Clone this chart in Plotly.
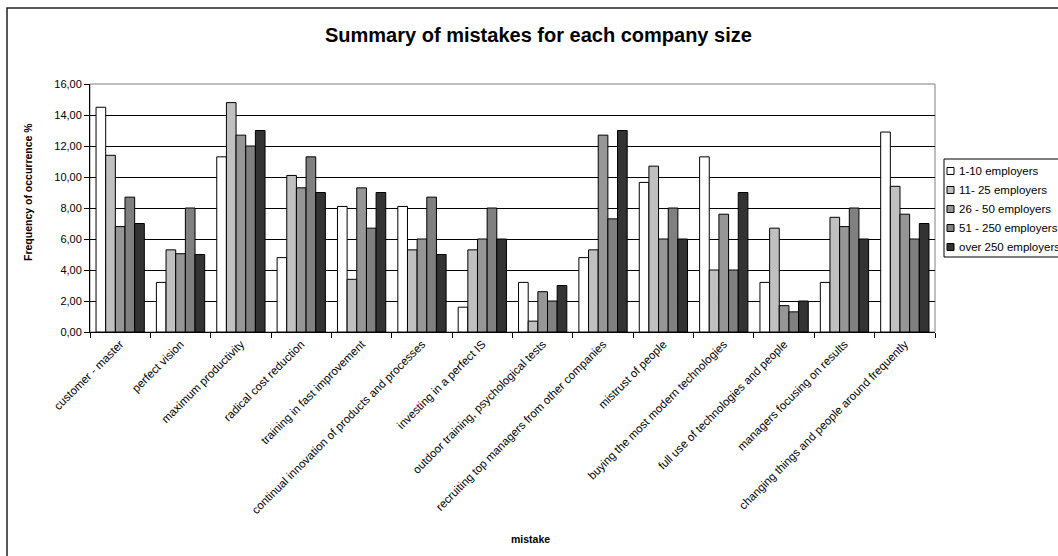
import plotly.graph_objects as go

# Categories (mistakes) and series values, % frequency of occurrence
mistakes = [
    "customer - master",
    "perfect vision",
    "maximum productivity",
    "radical cost reduction",
    "training in fast improvement",
    "continual innovation of products and processes",
    "investing in a perfect IS",
    "outdoor training, psychological tests",
    "recruiting top managers from other companies",
    "mistrust of people",
    "buying the most modern technologies",
    "full use of technologies and people",
    "managers focusing on results",
    "changing things and people around frequently",
]

series_names = [
    "1-10 employers",
    "11- 25 employers",
    "26 - 50 employers",
    "51 - 250 employers",
    "over 250 employers",
]

size_1_10 = [14.5, 3.2, 11.3, 4.8, 8.1, 8.1, 1.6, 3.2, 4.8, 9.65, 11.3, 3.2, 3.2, 12.9]
size_11_25 = [11.4, 5.3, 14.8, 10.1, 3.4, 5.3, 5.3, 0.7, 5.3, 10.7, 4.0, 6.7, 7.4, 9.4]
size_26_50 = [6.8, 5.05, 12.7, 9.3, 9.3, 6.0, 6.0, 2.6, 12.7, 6.0, 7.6, 1.7, 6.8, 7.6]
size_51_250 = [8.7, 8.0, 12.0, 11.3, 6.7, 8.7, 8.0, 2.0, 7.3, 8.0, 4.0, 1.3, 8.0, 6.0]
size_over_250 = [7.0, 5.0, 13.0, 9.0, 9.0, 5.0, 6.0, 3.0, 13.0, 6.0, 9.0, 2.0, 6.0, 7.0]

y_ticks = [0, 2, 4, 6, 8, 10, 12, 14, 16]

series_values = [size_1_10, size_11_25, size_26_50, size_51_250, size_over_250]
series_colors = ["#FFFFFF", "#C0C0C0", "#969696", "#808080", "#333333"]

FONT = "Liberation Sans, Arial, sans-serif"

W, H = 1058, 556
PLOT_L, PLOT_R, PLOT_T, PLOT_B = 90, 935, 84, 332


def px(x):
    return (x - PLOT_L) / (PLOT_R - PLOT_L)


def py(y):
    return (PLOT_B - y) / (PLOT_B - PLOT_T)


fig = go.Figure()
for name, vals, col in zip(series_names, series_values, series_colors):
    fig.add_trace(go.Bar(
        x=mistakes, y=vals, name=name,
        marker=dict(color=col, line=dict(color="black", width=1)),
        showlegend=False,
    ))

shapes = [
    # outer chart frame
    dict(type="rect", xref="paper", yref="paper",
         x0=px(7), x1=px(1075), y0=py(558), y1=py(8),
         line=dict(color="#222222", width=1.5), fillcolor="rgba(0,0,0,0)", layer="below"),
    # plot area border
    dict(type="rect", xref="paper", yref="paper",
         x0=0, x1=1, y0=0, y1=1,
         line=dict(color="#808080", width=1), fillcolor="rgba(0,0,0,0)", layer="below"),
]

annotations = [
    dict(text="Summary of mistakes for each company size", xref="paper", yref="paper",
         x=px(538), y=py(35), xanchor="center", yanchor="middle", showarrow=False,
         font=dict(family=FONT, size=20, color="black", weight="bold")),
    dict(text="Frequency of occurrence %", xref="paper", yref="paper",
         x=px(28), y=py(192), xanchor="center", yanchor="middle", showarrow=False,
         textangle=-90, font=dict(family=FONT, size=10.5, color="black", weight="bold")),
    dict(text="mistake", xref="paper", yref="paper",
         x=px(530), y=py(539), xanchor="center", yanchor="middle", showarrow=False,
         font=dict(family=FONT, size=10.5, color="black", weight="bold")),
]

# legend drawn as a box with swatches
LEG_L, LEG_T, LEG_B = 944, 159, 257
shapes.append(dict(type="rect", xref="paper", yref="paper",
                   x0=px(LEG_L), x1=px(1080), y0=py(LEG_B), y1=py(LEG_T),
                   line=dict(color="black", width=1), fillcolor="white"))
for i, (name, col) in enumerate(zip(series_names, series_colors)):
    cy = 171 + i * 19
    shapes.append(dict(type="rect", xref="paper", yref="paper",
                       x0=px(947), x1=px(954), y0=py(cy + 3.5), y1=py(cy - 3.5),
                       line=dict(color="black", width=1), fillcolor=col))
    annotations.append(dict(text=name, xref="paper", yref="paper",
                            x=px(957), y=py(cy), xanchor="left", yanchor="middle",
                            showarrow=False,
                            font=dict(family=FONT, size=11.5, color="black")))

fig.update_layout(
    width=W, height=H,
    margin=dict(l=PLOT_L, r=W - PLOT_R, t=PLOT_T, b=H - PLOT_B, autoexpand=False),
    paper_bgcolor="white", plot_bgcolor="white",
    barmode="group", bargap=0.2, bargroupgap=0,
    separators=",.",
    font=dict(family=FONT, size=11, color="black"),
    showlegend=False,
    shapes=shapes,
    annotations=annotations,
)

fig.update_xaxes(
    showline=True, linecolor="black", linewidth=1,
    ticks="outside", tickson="boundaries", ticklen=5, tickcolor="black",
    tickangle=-45, tickfont=dict(family=FONT, size=11.5, color="black"),
    showgrid=False, zeroline=False,
)
fig.update_yaxes(
    range=[0, 16], tickvals=y_ticks, tickformat=".2f",
    showline=True, linecolor="black", linewidth=1,
    ticks="outside", ticklen=5, tickcolor="black",
    tickfont=dict(family=FONT, size=11, color="black"),
    showgrid=True, gridcolor="black", gridwidth=1,
    zeroline=False,
)

fig.write_html("out.html")
